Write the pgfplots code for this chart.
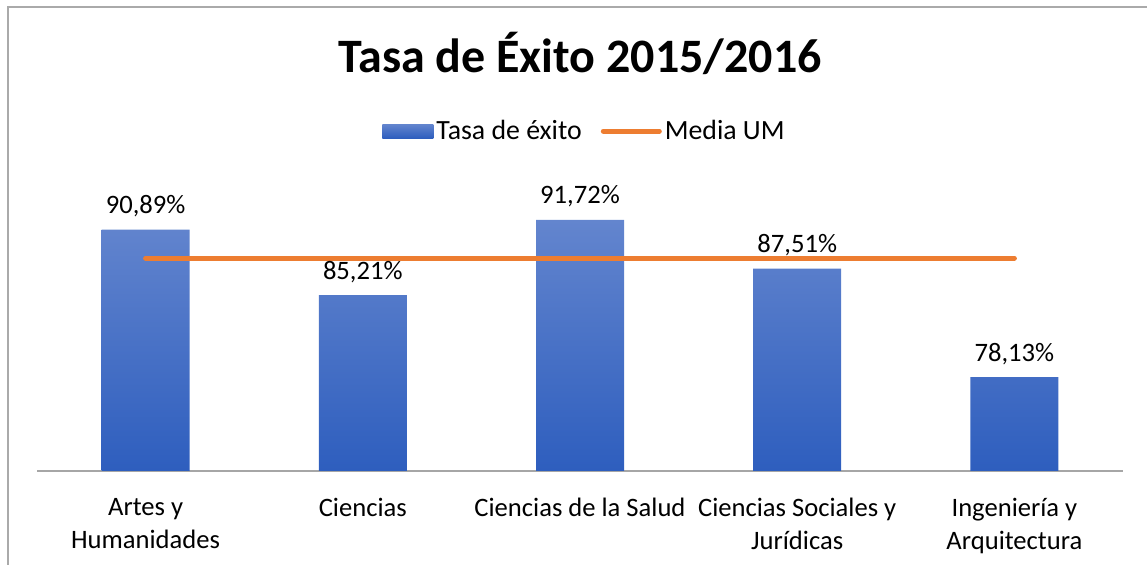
\documentclass[border=0pt]{standalone}
\usepackage{pgfplots}
\pgfplotsset{compat=1.18}
\usepackage{fontspec}
\setmainfont{Carlito}
\definecolor{bartop}{RGB}{99,133,206}
\definecolor{barbot}{RGB}{46,94,190}
\definecolor{lineor}{RGB}{237,125,49}
\definecolor{axgray}{RGB}{166,166,166}
\definecolor{bordergray}{RGB}{170,170,170}
\pgfplotsset{
  barleg/.style={legend image code/.code={\path[##1] (0pt,-3.5pt) rectangle (25.5pt,3.5pt);}},
  lineleg/.style={legend image code/.code={\draw[##1] (0pt,0pt) -- (28pt,0pt);}},
}
\begin{document}
\begin{tikzpicture}
\useasboundingbox (0,0) rectangle (573.5pt,282.5pt);
\draw[bordergray, line width=0.6pt] (4pt,-1pt) -- (4pt,279pt) -- (575pt,279pt);
\node[anchor=base, font=\fontsize{24}{28}\selectfont\bfseries] at (290pt,246pt) {Tasa de Éxito 2015/2016};
\begin{axis}[
  at={(18.5pt,47pt)}, anchor=south west,
  scale only axis, width=543pt, height=144.5pt,
  xmin=-0.5, xmax=4.5, ymin=70, ymax=95,
  axis x line*=bottom, axis y line=none,
  x axis line style={-, draw=axgray, line width=0.8pt},
  xtick={0,1,2,3,4}, major tick length=0pt,
  xticklabels={{Artes y\\Humanidades},{Ciencias},{Ciencias de la Salud},{Ciencias Sociales y\\Jurídicas},{Ingeniería y\\Arquitectura}},
  xticklabel style={align=center, font=\fontsize{13.3}{16.5}\selectfont, yshift=-10pt},
  legend columns=2,
  legend style={draw=none, fill=none, at={(0.5,1.176)}, anchor=center, xshift=2.5pt,
    font=\fontsize{13.9}{16}\selectfont, inner sep=0pt,
    nodes={inner sep=1.5pt},
    /tikz/every even column/.append style={column sep=8pt}},
  clip=false,
]
\addplot[ybar, bar width=44pt, draw=none, top color=bartop, bottom color=barbot,
  point meta=explicit symbolic,
  nodes near coords,
  nodes near coords style={anchor=base, inner sep=0pt, yshift=8pt, text=black, font=\fontsize{13.3}{16}\selectfont},
  barleg]
  coordinates {(0,90.89) [90,89\%] (1,85.21) [85,21\%] (2,91.72) [91,72\%] (3,87.51) [87,51\%] (4,78.13) [78,13\%]};
\addlegendentry{Tasa de éxito}
\addplot[sharp plot, no marks, draw=lineor, line width=2.5pt, line cap=round, lineleg]
  coordinates {(0,88.42) (1,88.42) (2,88.42) (3,88.42) (4,88.42)};
\addlegendentry{Media UM}
\end{axis}
\end{tikzpicture}
\end{document}
